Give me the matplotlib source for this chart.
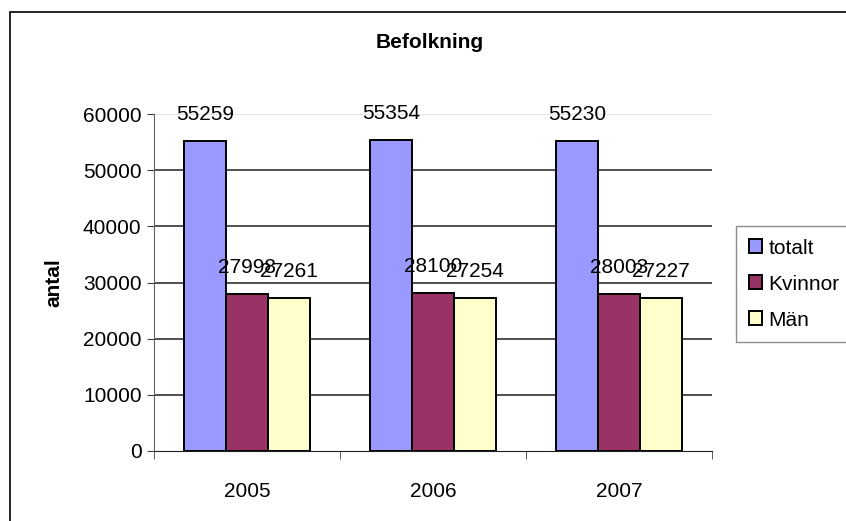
import matplotlib.pyplot as plt
import numpy as np
from matplotlib.patches import Patch, Rectangle

plt.rcParams['font.family'] = ['Liberation Sans', 'DejaVu Sans']

# data
years = ["2005", "2006", "2007"]
series = ["totalt", "Kvinnor", "Män"]
totalt = [55259, 55354, 55230]
kvinnor = [27998, 28100, 28003]
man = [27261, 27254, 27227]
colors = ["#9999FF", "#993366", "#FFFFCC"]

fig = plt.figure(figsize=(8.46, 5.21), dpi=100)
W, H = 846, 521

# outer chart border
fig.patches.append(Rectangle((10 / W, -0.1), 1.2, 1 - 12 / H + 0.1, transform=fig.transFigure,
                             fill=False, edgecolor="#000000", linewidth=1.2))

ax = fig.add_axes([154 / W, 1 - 451 / H, 558 / W, 337 / H])

x = np.arange(len(years))
bw = 0.225
for i, (vals, c) in enumerate(zip([totalt, kvinnor, man], colors)):
    bars = ax.bar(x + (i - 1) * bw, vals, bw, color=c, edgecolor="black",
                  linewidth=1.4, zorder=3)
    for b, v in zip(bars, vals):
        ax.annotate(str(v), (b.get_x() + b.get_width() / 2, v), xytext=(0, 19),
                    textcoords="offset points", ha="center", va="center",
                    fontsize=15, zorder=4)

ax.set_xlim(-0.5, 2.5)
ax.set_ylim(0, 60000)
ax.set_yticks(range(0, 60001, 10000))
ax.tick_params(axis="y", labelsize=15, length=5, color="#404040", pad=4)
ax.set_xticks(x)
ax.set_xticklabels(years)
ax.tick_params(axis="x", length=0, labelsize=15, pad=22)
ax.set_xticks([-0.5, 0.5, 1.5, 2.5], minor=True)
ax.tick_params(axis="x", which="minor", length=6, color="#404040")

for yv in range(10000, 60001, 10000):
    ax.axhline(yv, color="#dddddd" if yv == 60000 else "#202020", linewidth=1.1, zorder=1)

for s in ["top", "right"]:
    ax.spines[s].set_visible(False)
ax.spines["left"].set_color("#606060")
ax.spines["bottom"].set_color("#202020")

ax.set_ylabel("antal", fontsize=15, fontweight="bold", labelpad=14)
fig.text(430 / W, 1 - 42 / H, "Befolkning", ha="center", va="center",
         fontsize=15, fontweight="bold")

handles = [Patch(facecolor=c, edgecolor="black", linewidth=1.4) for c in colors]
fig.legend(handles, series, loc="upper left", bbox_to_anchor=(736 / W, 1 - 226 / H),
           fontsize=15, frameon=True, fancybox=False, edgecolor="#707070",
           handlelength=0.65, handleheight=0.65, handletextpad=0.3,
           labelspacing=0.82, borderpad=0.6, borderaxespad=0)

fig.savefig("out.png", dpi=100)
